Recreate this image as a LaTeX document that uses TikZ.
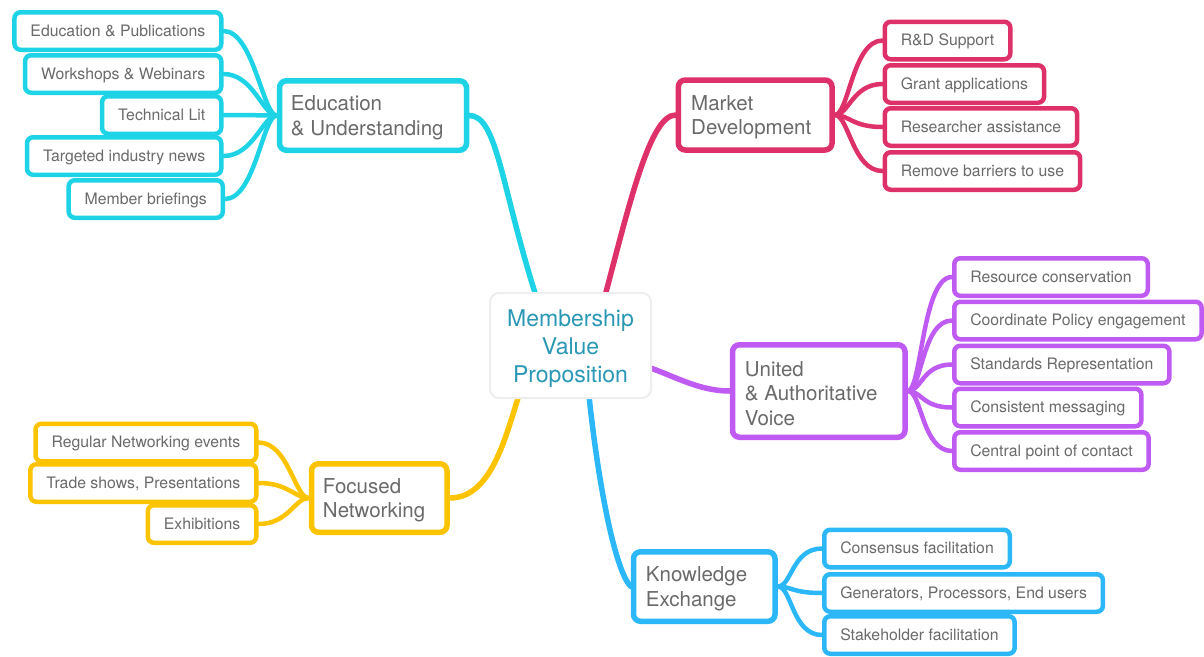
\documentclass[tikz,border=0pt]{standalone}
\usepackage{fontspec}
\setmainfont{TeX Gyre Heros}
\usetikzlibrary{calc}
\definecolor{cyanc}{HTML}{1FD3E6}
\definecolor{pinkc}{HTML}{DF3169}
\definecolor{purplec}{HTML}{BF5AF2}
\definecolor{yellowc}{HTML}{FCC400}
\definecolor{bluec}{HTML}{2CB8F8}
\definecolor{txtgrey}{HTML}{6A6A6A}
\definecolor{centerteal}{HTML}{2A98B5}
\definecolor{ctrborder}{HTML}{EEEEEE}
\pgfdeclarelayer{bg}
\pgfsetlayers{bg,main}
\tikzset{
  leaf/.style={draw, line width=4.5pt, rounded corners=6pt, fill=white,
    inner xsep=16pt, inner ysep=0pt, minimum height=37.5pt,
    text height=12.5pt, text depth=2.5pt,
    font=\fontsize{15.8}{19}\selectfont, text=txtgrey},
  mainbox/.style={draw, line width=5.5pt, rounded corners=7pt, fill=white},
  maintxt/.style={anchor=west, inner sep=0pt, align=left,
    font=\fontsize{20.5}{24.5}\selectfont, text=txtgrey},
  ctrbox/.style={draw=ctrborder, line width=2pt, rounded corners=9pt, fill=white,
    minimum width=161pt, minimum height=105pt},
  ctrtxt/.style={align=center, inner sep=0pt, font=\fontsize{23}{28}\selectfont, text=centerteal},
  conn/.style={line width=4.5pt, line cap=round},
  mainconn/.style={line width=5.5pt, line cap=round}
}
\begin{document}
\begin{tikzpicture}[x=1pt,y=-1pt]
\useasboundingbox (0,0) rectangle (1204,656);

% centre
\node[ctrbox] (ctr) at (570.5,345.5) {};
\node[ctrtxt] (ctrt) at ($(ctr.center)+(0,3)$) {Membership\\Value\\Proposition};

% main topics
\node[mainbox, draw=cyanc, anchor=west, minimum width=187pt, minimum height=69.5pt] (edu) at (276.75,115.5) {};
\node[maintxt] (edut) at ($(edu.west)+(14,2.5)$) {Education\\\& Understanding};
\node[mainbox, draw=pinkc, anchor=west, minimum width=153.8pt, minimum height=70pt] (mkt) at (675.5,115) {};
\node[maintxt] (mktt) at ($(mkt.west)+(15.5,2.5)$) {Market\\Development};
\node[mainbox, draw=purplec, anchor=west, minimum width=172.5pt, minimum height=92.5pt] (uni) at (729.75,391) {};
\node[maintxt] (unit) at ($(uni.west)+(15,2.5)$) {United\\\& Authoritative\\Voice};
\node[mainbox, draw=yellowc, anchor=west, minimum width=135.5pt, minimum height=68.5pt] (foc) at (308.75,498) {};
\node[maintxt] (foct) at ($(foc.west)+(14,2.5)$) {Focused\\Networking};
\node[mainbox, draw=bluec, anchor=west, minimum width=141.5pt, minimum height=69.5pt] (kno) at (630.75,586.5) {};
\node[maintxt] (knot) at ($(kno.west)+(15,2.5)$) {Knowledge\\Exchange};

% education leaves
\node[leaf, draw=cyanc, anchor=east] (e1) at (223.5,31) {Education \& Publications};
\node[leaf, draw=cyanc, anchor=east] (e2) at (223.5,74) {Workshops \& Webinars};
\node[leaf, draw=cyanc, anchor=east] (e3) at (223.5,115) {Technical Lit};
\node[leaf, draw=cyanc, anchor=east] (e4) at (223.5,156) {Targeted industry news};
\node[leaf, draw=cyanc, anchor=east] (e5) at (225,199) {Member briefings};

% market leaves
\node[leaf, draw=pinkc, anchor=west] (m1) at (882.5,40.5) {R\&D Support};
\node[leaf, draw=pinkc, anchor=west] (m2) at (882.5,84) {Grant applications};
\node[leaf, draw=pinkc, anchor=west] (m3) at (882.5,127) {Researcher assistance};
\node[leaf, draw=pinkc, anchor=west] (m4) at (882.5,171) {Remove barriers to use};

% united leaves
\node[leaf, draw=purplec, anchor=west] (u1) at (952,277) {Resource conservation};
\node[leaf, draw=purplec, anchor=west] (u2) at (952,320.5) {Coordinate Policy engagement};
\node[leaf, draw=purplec, anchor=west] (u3) at (952,364.5) {Standards Representation};
\node[leaf, draw=purplec, anchor=west] (u4) at (952,407.5) {Consistent messaging};
\node[leaf, draw=purplec, anchor=west] (u5) at (952,451) {Central point of contact};

% focused leaves
\node[leaf, draw=yellowc, anchor=east] (f1) at (258.5,442.5) {Regular Networking events};
\node[leaf, draw=yellowc, anchor=east] (f2) at (258.5,483) {Trade shows, Presentations};
\node[leaf, draw=yellowc, anchor=east] (f3) at (258.5,524) {Exhibitions};

% knowledge leaves
\node[leaf, draw=bluec, anchor=west] (k1) at (822,548.5) {Consensus facilitation};
\node[leaf, draw=bluec, anchor=west] (k2) at (822,593) {Generators, Processors, End users};
\node[leaf, draw=bluec, anchor=west] (k3) at (822,635) {Stakeholder facilitation};

\begin{pgfonlayer}{bg}
  % main connectors
  \draw[mainconn, cyanc] ($(ctr.north west)+(47,4)$) .. controls +(-35,-110) and +(28,0) .. (edu.east);
  \draw[mainconn, pinkc] ($(ctr.north west)+(116,4)$) .. controls +(25,-95) and +(-25,0) .. (mkt.west);
  \draw[mainconn, purplec] ($(ctr.north east)+(-4,75)$) .. controls +(28,10) and +(-30,0) .. (uni.west);
  \draw[mainconn, yellowc] ($(ctr.south west)+(30,-4)$) .. controls +(-15,48) and +(40,0) .. (foc.east);
  \draw[mainconn, bluec] ($(ctr.south west)+(100,-3)$) .. controls +(10,94) and +(-15,-15) .. (kno.west);
  % leaf connectors
  \foreach \l in {e1,e2,e3,e4,e5}
    \draw[conn, cyanc] (\l.east) .. controls +(30,0) and +(-14,0) .. (edu.west);
  \foreach \l in {m1,m2,m3,m4}
    \draw[conn, pinkc] (mkt.east) .. controls +(14,0) and +(-30,0) .. (\l.west);
  \foreach \l in {u1,u2,u3,u4,u5}
    \draw[conn, purplec] (uni.east) .. controls +(14,0) and +(-30,0) .. (\l.west);
  \foreach \l in {f1,f2,f3}
    \draw[conn, yellowc] (\l.east) .. controls +(30,0) and +(-14,0) .. (foc.west);
  \foreach \l in {k1,k2,k3}
    \draw[conn, bluec] (kno.east) .. controls +(14,0) and +(-30,0) .. (\l.west);
\end{pgfonlayer}
\end{tikzpicture}
\end{document}
